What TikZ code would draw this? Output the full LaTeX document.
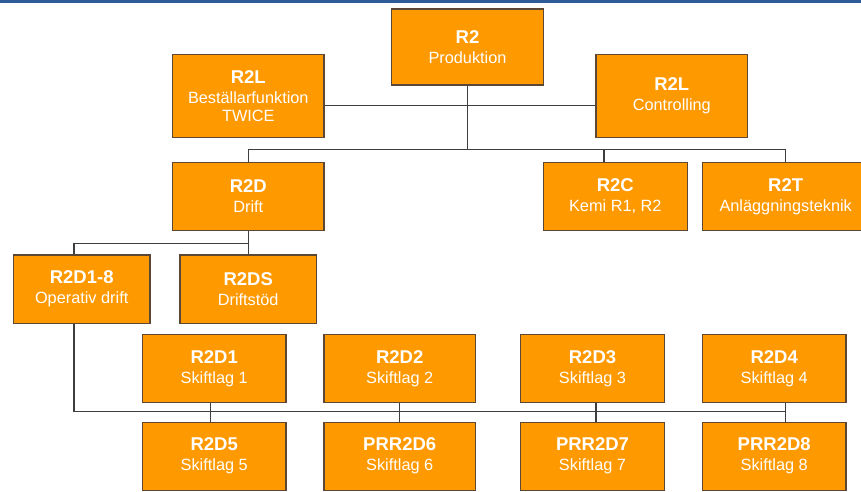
\documentclass[tikz,border=0pt]{standalone}
\usepackage{fontspec}
\setmainfont{Liberation Sans}
\definecolor{orgfill}{RGB}{255,153,0}
\definecolor{orgedge}{RGB}{92,70,52}
\definecolor{linkcol}{RGB}{62,62,62}
\definecolor{topbar}{RGB}{45,92,150}
\newcommand{\unithead}[1]{{\fontsize{18.5}{21}\selectfont\bfseries #1}\\[2pt]}
\tikzset{
  unit/.style={draw=orgedge, line width=1.3pt, fill=orgfill, text=white,
    align=center, inner sep=0pt, font=\fontsize{16.3}{18}\selectfont},
  link/.style={draw=linkcol, line width=1.2pt}
}
\begin{document}
\begin{tikzpicture}[x=1pt,y=-1pt]
\useasboundingbox (0,0) rectangle (861,491);
\clip (0,0) rectangle (861,491);
\fill[white] (0,0) rectangle (861,491);
% blue rule along the top edge
\fill[topbar] (0,0) rectangle (861,2.6);

% management level
\node[unit, minimum width=151.6pt, minimum height=76pt] (r2) at (467.5,47) {\unithead{R2}Produktion};
\node[unit, minimum width=151.5pt, minimum height=83pt] (r2lb) at (248.3,96) {\unithead{R2L}Beställarfunktion\\TWICE};
\node[unit, minimum width=151.7pt, minimum height=83pt] (r2lc) at (671.8,96) {\unithead{R2L}Controlling};

% departments
\node[unit, minimum width=151.5pt, minimum height=68pt] (r2d) at (248.3,196.3) {\unithead{R2D}Drift};
\node[unit, minimum width=144pt, minimum height=68pt] (r2c) at (615.3,196.3) {\unithead{R2C}Kemi R1, R2};
\node[unit, minimum width=167pt, minimum height=68pt] (r2t) at (785.7,196.3) {\unithead{R2T}Anläggningsteknik};

% operations
\node[unit, minimum width=136.7pt, minimum height=68.3pt] (r2d18) at (81.7,289.2) {\unithead{R2D1-8}Operativ drift};
\node[unit, minimum width=136.3pt, minimum height=68.3pt] (r2ds) at (248.2,289.2) {\unithead{R2DS}Driftstöd};

% shift teams
\node[unit, minimum width=143.7pt, minimum height=68pt] (s1) at (214.2,368.3) {\unithead{R2D1}Skiftlag 1};
\node[unit, minimum width=151.3pt, minimum height=68pt] (s2) at (399.7,368.3) {\unithead{R2D2}Skiftlag 2};
\node[unit, minimum width=143.6pt, minimum height=68pt] (s3) at (592.5,368.3) {\unithead{R2D3}Skiftlag 3};
\node[unit, minimum width=143.7pt, minimum height=68pt] (s4) at (774.2,368.3) {\unithead{R2D4}Skiftlag 4};
\node[unit, minimum width=143.7pt, minimum height=68pt] (s5) at (214.2,456.2) {\unithead{R2D5}Skiftlag 5};
\node[unit, minimum width=151.3pt, minimum height=68pt] (s6) at (399.7,456.2) {\unithead{PRR2D6}Skiftlag 6};
\node[unit, minimum width=143.6pt, minimum height=68pt] (s7) at (592.5,456.2) {\unithead{PRR2D7}Skiftlag 7};
\node[unit, minimum width=143.7pt, minimum height=68pt] (s8) at (774.2,456.2) {\unithead{PRR2D8}Skiftlag 8};

% junction points of the tree
\coordinate (staff) at (467.7,105.5);
\coordinate (trunk) at (467.7,149.5);
\coordinate (busL) at (248.3,149.5);
\coordinate (busC) at (604,149.5);
\coordinate (busT) at (785.7,149.5);
\coordinate (opsJ) at (248.3,243.3);
\coordinate (opsL) at (74,243.3);
\coordinate (teamL) at (74,411.7);
\coordinate (t1) at (210.3,411.7);
\coordinate (t2) at (399.3,411.7);
\coordinate (t3) at (596,411.7);
\coordinate (t4) at (785.7,411.7);

% staff functions
\draw[link] (r2lb.east |- staff) -- (r2lc.west |- staff);
\draw[link] (r2.south -| staff) -- (trunk);
% department bus
\draw[link] (busL) -- (busT);
\draw[link] (busL) -- (r2d.north -| busL);
\draw[link] (busC) -- (r2c.north -| busC);
\draw[link] (busT) -- (r2t.north -| busT);
% operations branch
\draw[link] (r2d.south -| opsJ) -- (r2ds.north -| opsJ);
\draw[link] (opsJ) -- (opsL) -- (r2d18.north -| opsL);
\draw[link] (r2d18.south -| teamL) -- (teamL) -- (t4);
% shift team pairs
\draw[link] (s1.south -| t1) -- (s5.north -| t1);
\draw[link] (s2.south -| t2) -- (s6.north -| t2);
\draw[link] (s3.south -| t3) -- (s7.north -| t3);
\draw[link] (s4.south -| t4) -- (s8.north -| t4);
\end{tikzpicture}
\end{document}
